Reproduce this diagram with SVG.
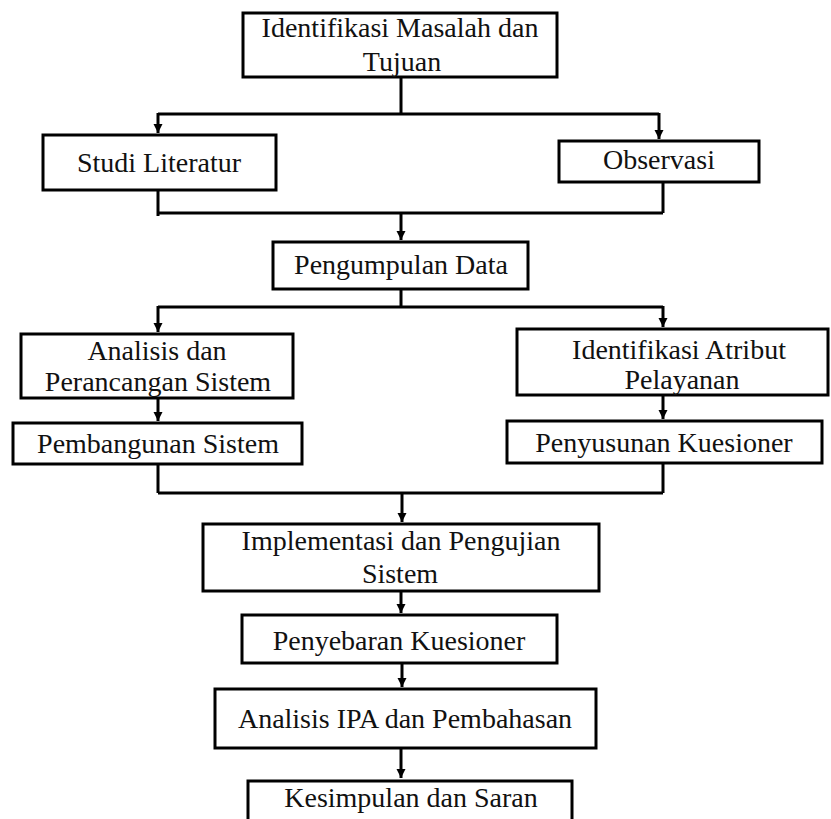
<svg xmlns="http://www.w3.org/2000/svg" width="831" height="819" viewBox="0 0 831 819">
<style>
.box{fill:#fff;stroke:#000;stroke-width:3}
.t{font-family:"Liberation Serif","Times New Roman",serif;font-size:28px;fill:#111;text-anchor:middle}
.c{fill:none;stroke:#000;stroke-width:3}
</style>
<defs>
<marker id="ah" markerUnits="userSpaceOnUse" markerWidth="10" markerHeight="10" refX="9" refY="4.5" orient="auto">
<path d="M0,0 L9,4.5 L0,9 z" fill="#000"/>
</marker>
</defs>
<rect width="831" height="819" fill="#fff"/>
<g id="connectors">
<path class="c" d="M401,77 V114 M158,114 H659"/>
<path class="c" d="M158,113 V133" marker-end="url(#ah)"/>
<path class="c" d="M659,113 V139" marker-end="url(#ah)"/>
<path class="c" d="M158,190 V216 M663,182 V213 M158,213 H663"/>
<path class="c" d="M401,213 V240" marker-end="url(#ah)"/>
<path class="c" d="M401,289 V307 M158,307 H663"/>
<path class="c" d="M158,306 V332" marker-end="url(#ah)"/>
<path class="c" d="M663,306 V327" marker-end="url(#ah)"/>
<path class="c" d="M158,398 V421" marker-end="url(#ah)"/>
<path class="c" d="M663,395 V419" marker-end="url(#ah)"/>
<path class="c" d="M158,464 V493 M663,463 V493 M158,493 H663"/>
<path class="c" d="M402,493 V522" marker-end="url(#ah)"/>
<path class="c" d="M401,591 V613" marker-end="url(#ah)"/>
<path class="c" d="M402,663 V687" marker-end="url(#ah)"/>
<path class="c" d="M401,748 V778" marker-end="url(#ah)"/>
</g>
<g id="n1"><rect class="box" x="243" y="13" width="314" height="64"/><text class="t" x="400" y="37">Identifikasi Masalah dan</text><text class="t" x="402" y="71">Tujuan</text></g>
<g id="n2"><rect class="box" x="43" y="135" width="233" height="55"/><text class="t" x="159" y="172">Studi Literatur</text></g>
<g id="n3"><rect class="box" x="559" y="141" width="200" height="41"/><text class="t" x="659" y="169">Observasi</text></g>
<g id="n4"><rect class="box" x="273" y="242" width="255" height="47"/><text class="t" x="401" y="274">Pengumpulan Data</text></g>
<g id="n5"><rect class="box" x="21" y="334" width="272" height="64"/><text class="t" x="157" y="360">Analisis dan</text><text class="t" x="158" y="391">Perancangan Sistem</text></g>
<g id="n6"><rect class="box" x="13" y="423" width="289" height="41"/><text class="t" x="158" y="453">Pembangunan Sistem</text></g>
<g id="n7"><rect class="box" x="517" y="329" width="311" height="66"/><text class="t" x="679" y="359">Identifikasi Atribut</text><text class="t" x="682" y="389">Pelayanan</text></g>
<g id="n8"><rect class="box" x="507" y="421" width="315" height="42"/><text class="t" x="664" y="452">Penyusunan Kuesioner</text></g>
<g id="n9"><rect class="box" x="203" y="524" width="396" height="67"/><text class="t" x="401" y="550">Implementasi dan Pengujian</text><text class="t" x="400" y="583">Sistem</text></g>
<g id="n10"><rect class="box" x="242" y="615" width="315" height="48"/><text class="t" x="399" y="650">Penyebaran Kuesioner</text></g>
<g id="n11"><rect class="box" x="215" y="689" width="381" height="59"/><text class="t" x="405" y="728">Analisis IPA dan Pembahasan</text></g>
<g id="n12"><rect class="box" x="248" y="781" width="324" height="60"/><text class="t" x="411" y="807">Kesimpulan dan Saran</text></g>
</svg>
